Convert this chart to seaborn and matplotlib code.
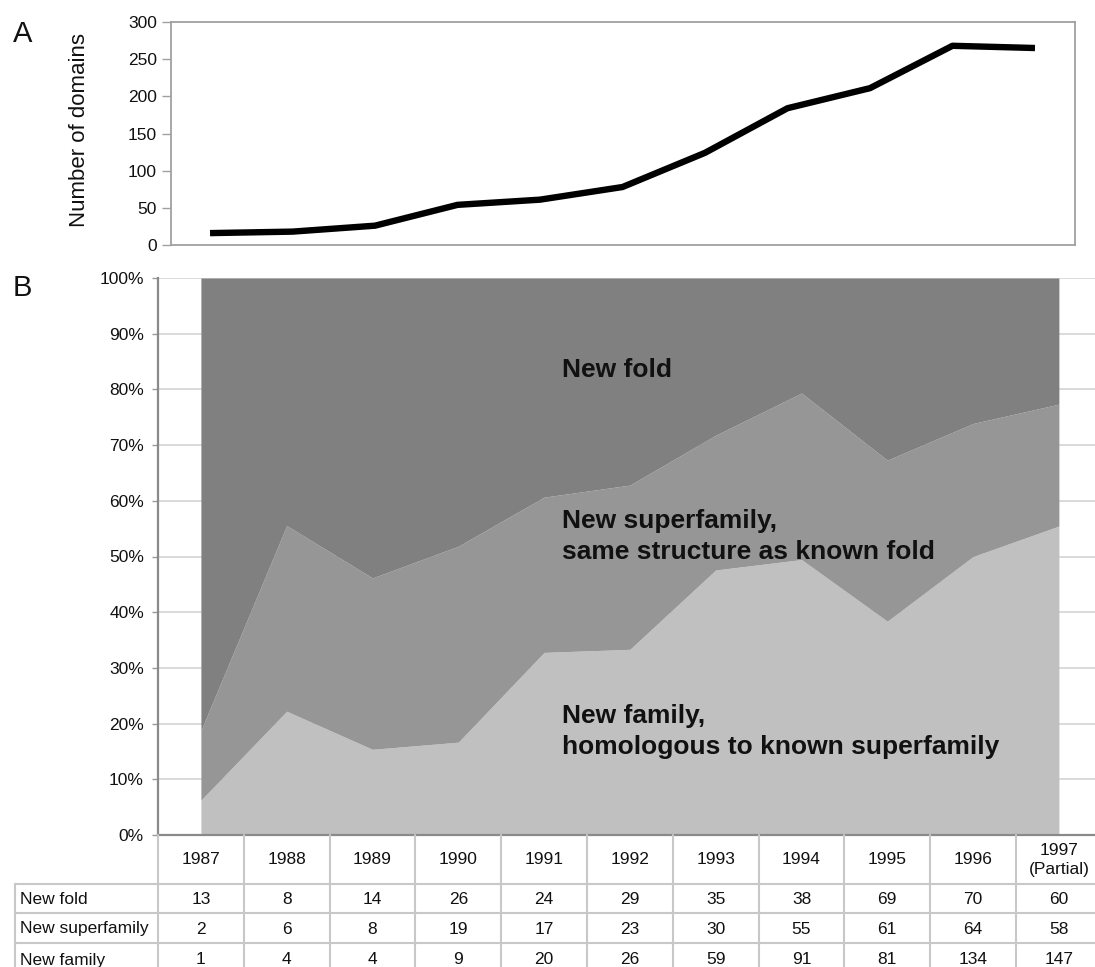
import numpy as np
import pandas as pd
import matplotlib
matplotlib.use("Agg")
import matplotlib.pyplot as plt
import seaborn as sns

# Newly classified domains per year of release
years = [1987, 1988, 1989, 1990, 1991, 1992, 1993, 1994, 1995, 1996, 1997]
year_labels = ["1987", "1988", "1989", "1990", "1991", "1992", "1993",
               "1994", "1995", "1996", "1997\n(Partial)"]
new_fold = [13, 8, 14, 26, 24, 29, 35, 38, 69, 70, 60]
new_superfamily = [2, 6, 8, 19, 17, 23, 30, 55, 61, 64, 58]
new_family = [1, 4, 4, 9, 20, 26, 59, 91, 81, 134, 147]
row_labels = ["New fold", "New superfamily", "New family"]

sns.set_theme(style="white")
plt.rcParams["font.family"] = ["Liberation Sans", "DejaVu Sans"]

W, H = 1095, 967
fig = plt.figure(figsize=(W / 100, H / 100), dpi=100)

def px_axes(left, top, right, bottom):
    return fig.add_axes([left / W, 1 - bottom / H, (right - left) / W, (bottom - top) / H])

txt = "#111111"
frame = "#a0a0a0"

# ---- Panel A: total domains per year
df = pd.DataFrame({
    "idx": np.arange(len(years)),
    "total": np.array(new_fold) + np.array(new_superfamily) + np.array(new_family),
})
axA = px_axes(171, 22, 1075, 245)
sns.lineplot(data=df, x="idx", y="total", ax=axA, color="black", linewidth=4.6,
             solid_joinstyle="round", solid_capstyle="butt")
axA.set_xlim(-0.473, 10.485)
axA.set_ylim(0, 300)
axA.set_yticks(range(0, 301, 50))
axA.set_xticks([])
axA.set_xlabel("")
axA.set_ylabel("Number of domains", fontsize=16, color=txt)
axA.yaxis.set_label_coords(-0.09, 0.515)
axA.tick_params(axis="y", left=True, length=6.5, width=1, color=frame, pad=3.6,
                labelsize=12.5, labelcolor=txt)
for s in axA.spines.values():
    s.set_color(frame)
    s.set_linewidth(1.3)

# ---- Panel B: stacked share of each class
tot = df["total"].to_numpy()
fam_pct = np.array(new_family) / tot * 100
sup_pct = np.array(new_superfamily) / tot * 100
fold_pct = np.array(new_fold) / tot * 100

col_w = 85.8
axB = px_axes(158, 278, 158 + 11 * col_w, 835)
x = np.arange(len(years))
axB.stackplot(x, fam_pct, sup_pct, fold_pct,
              colors=["#c0c0c0", "#969696", "#808080"], linewidth=0, zorder=2)
axB.set_xlim(-0.5, 10.5)
axB.set_ylim(0, 100)
axB.set_yticks(range(0, 101, 10))
axB.set_yticklabels([f"{v}%" for v in range(0, 101, 10)])
axB.set_xticks([])
axB.set_axisbelow(True)
axB.yaxis.grid(True, color="#d4d4d4", linewidth=1.2, zorder=0)
axB.tick_params(axis="y", left=True, length=4.3, width=1, color="#9a9a9a", pad=5.8,
                labelsize=12.5, labelcolor=txt)
for side in ["top", "right"]:
    axB.spines[side].set_visible(False)
for side in ["left", "bottom"]:
    axB.spines[side].set_color("#8a8a8a")
    axB.spines[side].set_linewidth(1.6)
    axB.spines[side].set_zorder(3)

# region labels (y = baseline of the last line)
lab = dict(fontsize=19, fontweight="bold", color=txt, ha="left", va="baseline",
           linespacing=1.38, zorder=4)
axB.text(4.21, 82.2, "New fold", **lab)
axB.text(4.21, 49.5, "New superfamily,\nsame structure as known fold", **lab)
axB.text(4.21, 14.5, "New family,\nhomologous to known superfamily", **lab)

# ---- Data table beneath panel B
axT = px_axes(158, 835, 158 + 11 * col_w, 967)
axT.set_xlim(-0.5, 10.5)
axT.set_ylim(132, 0)
axT.axis("off")
grid_c = "#c8c8c8"
x_left = (15 - 158) / col_w - 0.5
for k in range(12):
    axT.plot([k - 0.5, k - 0.5], [0, 140], color=grid_c, lw=1.5, clip_on=False)
axT.plot([x_left, x_left], [49, 140], color=grid_c, lw=1.5, clip_on=False)
for yy in [49, 78, 108]:
    axT.plot([x_left, 10.6], [yy, yy], color=grid_c, lw=1.5, clip_on=False)

for i, yl in enumerate(year_labels):
    axT.text(i, 25, yl, ha="center", va="center", fontsize=12.5, color=txt,
             linespacing=1.3)
row_y = [65, 94, 125]
for r, (name, vals) in enumerate(zip(row_labels, [new_fold, new_superfamily, new_family])):
    axT.text((20 - 158) / col_w - 0.5, row_y[r], name, ha="left", va="center",
             fontsize=12.5, color=txt, clip_on=False)
    for i, v in enumerate(vals):
        axT.text(i, row_y[r], str(v), ha="center", va="center", fontsize=12.5, color=txt)

# Panel letters
fig.text(13 / W, 1 - 42 / H, "A", fontsize=21, color=txt, va="baseline", ha="left")
fig.text(13 / W, 1 - 296 / H, "B", fontsize=21, color=txt, va="baseline", ha="left")

fig.savefig("out.png", dpi=100)
